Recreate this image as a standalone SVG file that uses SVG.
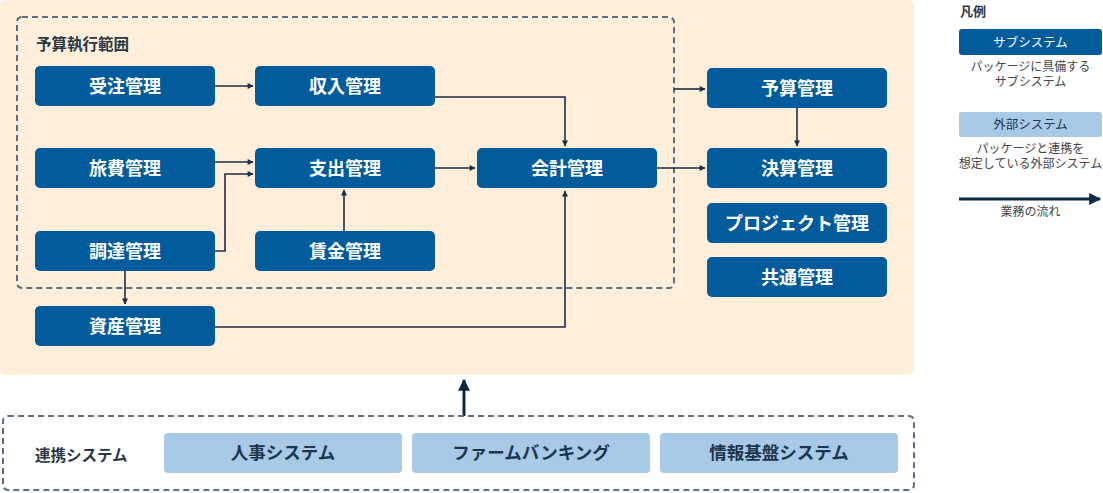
<svg xmlns="http://www.w3.org/2000/svg" width="1103" height="493" viewBox="0 0 1103 493">
<style>
.n rect{fill:#025C9C;}
.n text{fill:#fff;font-family:"Noto Sans CJK JP","Noto Sans",sans-serif;font-weight:bold;font-size:18px;text-anchor:middle;}
.e rect{fill:#A8CAE6;}
.e text{fill:#1E3550;font-family:"Noto Sans CJK JP","Noto Sans",sans-serif;font-weight:bold;font-size:17.5px;text-anchor:middle;}
.lbl{fill:#2A3746;font-family:"Noto Sans CJK JP","Noto Sans",sans-serif;font-weight:bold;font-size:15.5px;}
.desc{fill:#444;font-family:"Noto Sans CJK JP","Noto Sans",sans-serif;font-size:12px;text-anchor:middle;}
.dash{fill:none;stroke:#5C6D7E;stroke-width:2;stroke-dasharray:6 4;}
.c{fill:none;stroke:#1B2E45;stroke-width:1.6;}
</style>
<defs>
<marker id="ah" viewBox="0 0 10 10" refX="9" refY="5" markerWidth="6" markerHeight="6" orient="auto" markerUnits="userSpaceOnUse" overflow="visible">
<path d="M0,0 L10,5 L0,10 z" fill="#1B2E45"/>
</marker>
<marker id="ahb" viewBox="0 0 10 10" refX="9" refY="5" markerWidth="4" markerHeight="4" orient="auto" overflow="visible">
<path d="M0,0 L10,5 L0,10 z" fill="#0D2A45"/>
</marker>
</defs>
<rect id="bg" x="0" y="0" width="914" height="375" rx="6" fill="#FEEEDA"/>
<g id="scope">
<rect class="dash" x="17" y="17" width="657" height="271" rx="5"/>
<text class="lbl" x="36" y="50">予算執行範囲</text>
</g>
<g id="connectors">
<path class="c" d="M215,86 H253" marker-end="url(#ah)"/>
<path class="c" d="M435,97 H565 V146" marker-end="url(#ah)"/>
<path class="c" d="M215,162 H253" marker-end="url(#ah)"/>
<path class="c" d="M215,251 H225 V174 H253" marker-end="url(#ah)"/>
<path class="c" d="M344,231 V190" marker-end="url(#ah)"/>
<path class="c" d="M435,168 H475" marker-end="url(#ah)"/>
<path class="c" d="M657,168 H705" marker-end="url(#ah)"/>
<path class="c" d="M674,89 H705" marker-end="url(#ah)"/>
<path class="c" d="M797,108 V146" marker-end="url(#ah)"/>
<path class="c" d="M125,271 V304" marker-end="url(#ah)"/>
<path class="c" d="M215,327 H565 V191" marker-end="url(#ah)"/>
<path d="M464,416 V380" stroke="#0D2A45" stroke-width="3" fill="none" marker-end="url(#ahb)"/>
</g>
<g id="n-juchu" class="n"><rect x="35" y="66" width="180" height="40" rx="5"/><text x="125" y="92.5">受注管理</text></g>
<g id="n-shunyu" class="n"><rect x="255" y="66" width="180" height="40" rx="5"/><text x="345" y="92.5">収入管理</text></g>
<g id="n-ryohi" class="n"><rect x="35" y="148" width="180" height="40" rx="5"/><text x="125" y="174.5">旅費管理</text></g>
<g id="n-shishutsu" class="n"><rect x="255" y="148" width="180" height="40" rx="5"/><text x="345" y="174.5">支出管理</text></g>
<g id="n-kaikei" class="n"><rect x="477" y="148" width="180" height="40" rx="5"/><text x="567" y="174.5">会計管理</text></g>
<g id="n-chotatsu" class="n"><rect x="35" y="231" width="180" height="40" rx="5"/><text x="125" y="257.5">調達管理</text></g>
<g id="n-chingin" class="n"><rect x="255" y="231" width="180" height="40" rx="5"/><text x="345" y="257.5">賃金管理</text></g>
<g id="n-shisan" class="n"><rect x="35" y="306" width="180" height="40" rx="5"/><text x="125" y="332.5">資産管理</text></g>
<g id="n-yosan" class="n"><rect x="707" y="68" width="180" height="40" rx="5"/><text x="797" y="94.5">予算管理</text></g>
<g id="n-kessan" class="n"><rect x="707" y="148" width="180" height="40" rx="5"/><text x="797" y="174.5">決算管理</text></g>
<g id="n-project" class="n"><rect x="707" y="203" width="180" height="40" rx="5"/><text x="797" y="229.5">プロジェクト管理</text></g>
<g id="n-kyotsu" class="n"><rect x="707" y="257" width="180" height="40" rx="5"/><text x="797" y="283.5">共通管理</text></g>
<g id="external">
<rect class="dash" x="3" y="416" width="911" height="74" rx="5"/>
<text class="lbl" x="35" y="461">連携システム</text>
</g>
<g id="e-jinji" class="e"><rect x="164" y="433" width="238" height="40" rx="4"/><text x="283" y="459">人事システム</text></g>
<g id="e-firm" class="e"><rect x="412" y="433" width="238" height="40" rx="4"/><text x="531" y="459">ファームバンキング</text></g>
<g id="e-joho" class="e"><rect x="660" y="433" width="238" height="40" rx="4"/><text x="779" y="459">情報基盤システム</text></g>
<g id="legend">
<text class="lbl" x="960" y="16" style="font-size:13px">凡例</text>
<rect x="959" y="29" width="143" height="26" rx="3" fill="#025C9C"/>
<text x="1030.5" y="47" fill="#fff" font-family="'Noto Sans CJK JP',sans-serif" font-size="12.5" text-anchor="middle">サブシステム</text>
<text class="desc" x="1030.5" y="71">パッケージに具備する</text>
<text class="desc" x="1030.5" y="86">サブシステム</text>
<rect x="959" y="112" width="143" height="25" rx="3" fill="#A8CAE6"/>
<text x="1030.5" y="129" fill="#1E3550" font-family="'Noto Sans CJK JP',sans-serif" font-size="12.5" text-anchor="middle">外部システム</text>
<text class="desc" x="1030.5" y="153">パッケージと連携を</text>
<text class="desc" x="1030.5" y="168">想定している外部システム</text>
<path d="M959,199 H1100" stroke="#0D2A45" stroke-width="3" fill="none" marker-end="url(#ahb)"/>
<text class="desc" x="1030.5" y="216">業務の流れ</text>
</g>
</svg>
